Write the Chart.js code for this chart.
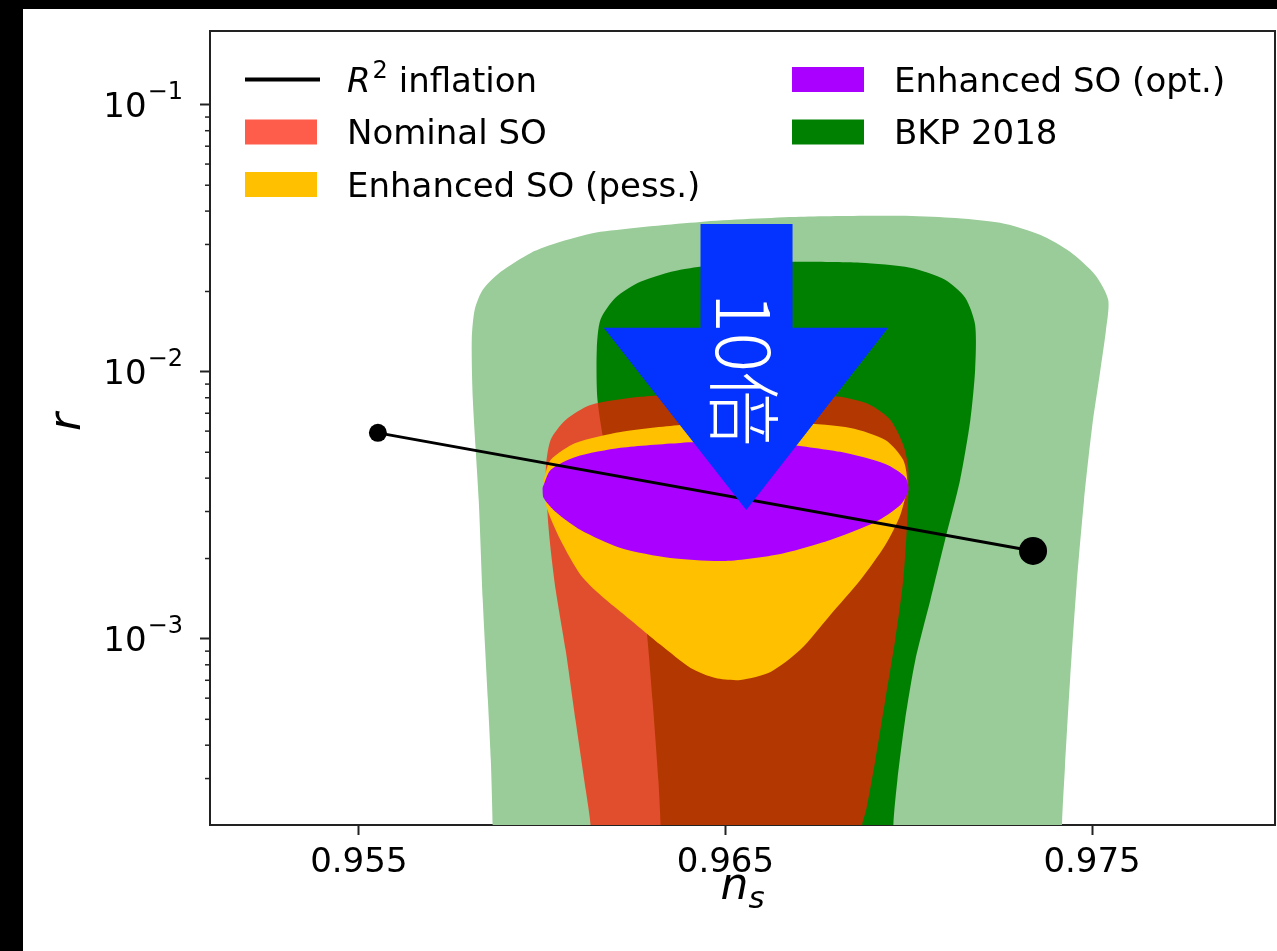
<!DOCTYPE html>
<html>
<head>
<meta charset="utf-8">
<script src="https://cdn.jsdelivr.net/npm/chart.js@4.4.1/dist/chart.umd.min.js"></script>
<style>
  html, body { margin: 0; padding: 0; background: #000; }
  canvas { display: block; }
</style>
</head>
<body>
<canvas id="c" width="1277" height="951"></canvas>
<script>
// ---------------- data ----------------
const nsTicks = [0.955, 0.965, 0.975];
const nsTickLabels = ['0.955', '0.965', '0.975'];
const rMajorTicks = [1e-3, 1e-2, 1e-1];
const rTickBase = ['10', '10', '10'];
const rTickExp = ['\u22123', '\u22122', '\u22121'];
const rMinorTicks = [2e-4,3e-4,4e-4,5e-4,6e-4,7e-4,8e-4,9e-4,
                     2e-3,3e-3,4e-3,5e-3,6e-3,7e-3,8e-3,9e-3,
                     2e-2,3e-2,4e-2,5e-2,6e-2,7e-2,8e-2,9e-2];
const nsRange = [0.95094, 0.97999];
const rRange = [2.01e-4, 0.189];

// R^2 inflation line (ns, r)
const r2Inflation = [[0.95552, 0.00591], [0.97339, 0.002136]];

// BKP 2018 outer (95%) contour
const bkp95 = [[0.95865,0.00012],[0.95865,0.000201],[0.95860,0.000352],[0.95852,0.000591],
  [0.95838,0.00140],[0.95827,0.003316],[0.95811,0.007854],[0.95808,0.01318],[0.95816,0.01707],
  [0.95838,0.02028],[0.95887,0.02369],[0.95969,0.0279],[0.96050,0.03068],[0.96159,0.03345],
  [0.96432,0.03645],[0.96704,0.03807],[0.96977,0.03839],[0.97113,0.03774],[0.97249,0.03614],
  [0.97358,0.0326],[0.97440,0.02815],[0.97508,0.02309],[0.97544,0.01861],[0.97538,0.01437],
  [0.97522,0.0100],[0.97500,0.00620],[0.97478,0.00330],[0.97458,0.0016],[0.97440,0.000700],
  [0.97426,0.000330],[0.97418,0.000201],[0.97418,0.00012]];

// BKP 2018 inner (68%) contour
const bkp68 = [[0.96326,0.00012],[0.96323,0.000201],[0.96317,0.000296],[0.96301,0.000591],
  [0.96282,0.001178],[0.96255,0.001976],[0.96214,0.003316],[0.96173,0.005104],[0.96151,0.007854],
  [0.96149,0.01209],[0.96159,0.01566],[0.96200,0.01893],[0.96268,0.02173],[0.96377,0.0241],
  [0.96541,0.0256],[0.96704,0.02582],[0.96868,0.0256],[0.97004,0.02452],[0.97099,0.02211],
  [0.97154,0.01893],[0.97181,0.0150],[0.97181,0.01017],[0.97168,0.006609],[0.97140,0.00394],
  [0.97099,0.002348],[0.97059,0.0014],[0.97018,0.000834],[0.96990,0.000497],[0.96969,0.000296],
  [0.96958,0.000201],[0.96958,0.00012]];

// Nominal SO
const nominalSO = [[0.96138,0.00012],[0.96132,0.000201],[0.96119,0.000272],[0.96091,0.000497],
  [0.96064,0.00091],[0.96037,0.001526],[0.96018,0.002559],[0.96010,0.004295],[0.96023,0.005563],
  [0.96064,0.006609],[0.96132,0.007522],[0.96268,0.008061],[0.96432,0.008341],[0.96650,0.008341],
  [0.96813,0.008061],[0.96895,0.007522],[0.96950,0.006609],[0.96985,0.005329],[0.96999,0.004295],
  [0.96996,0.00279],[0.96985,0.001663],[0.96963,0.000991],[0.96936,0.000591],[0.96909,0.000352],
  [0.96884,0.000229],[0.96873,0.000201],[0.96868,0.00012]];

// Enhanced SO (pess.)
const enhancedPess = [[0.96004,0.00394],[0.96023,0.004681],[0.96091,0.005421],[0.96214,0.00596],
  [0.96377,0.00633],[0.96541,0.0065],[0.96704,0.00644],[0.96841,0.006169],[0.96936,0.005563],
  [0.96985,0.004681],[0.96996,0.00377],[0.96977,0.002913],[0.96936,0.002249],[0.96868,0.001663],
  [0.96786,0.00123],[0.96704,0.00091],[0.96623,0.000752],[0.96541,0.000702],[0.96473,0.000714],
  [0.96405,0.000779],[0.96323,0.00095],[0.96241,0.001178],[0.96159,0.001461],[0.96105,0.001737],
  [0.96050,0.002348],[0.96010,0.003176]];

// Enhanced SO (opt.)
const enhancedOpt = [[0.96001,0.003677],[0.96023,0.004295],[0.96091,0.004803],[0.96214,0.005193],
  [0.96377,0.005421],[0.96500,0.005468],[0.96650,0.005374],[0.96813,0.005017],[0.96936,0.004522],
  [0.96990,0.004043],[0.96999,0.003614],[0.96977,0.003176],[0.96909,0.002742],[0.96786,0.002348],
  [0.96650,0.002081],[0.96500,0.001959],[0.96350,0.00201],[0.96214,0.002191],[0.96105,0.002559],
  [0.96037,0.002989],[0.96004,0.003373]];

// "10倍" arrow annotation, in (ns, r)
const arrowPolygon = [[0.96432,0.03582],[0.96683,0.03582],[0.96683,0.01462],[0.96944,0.01462],
  [0.96557,0.003041],[0.96168,0.01462],[0.96432,0.01462]];
const arrowText = '10倍';
const arrowTextPos = [0.96552, 0.0102];

// ---------------- chart ----------------
const xy = (arr, close) => {
  const pts = arr.map(([x, y]) => ({x, y}));
  if (close) pts.push({x: arr[0][0], y: arr[0][1]});
  return pts;
};
const shape = (label, arr, color) => ({
  label, data: xy(arr, true), showLine: true, fill: 'shape',
  backgroundColor: color, borderColor: 'transparent', borderWidth: 1,
  pointRadius: 0, tension: 0.25, capBezierPoints: false
});

const FONT = 'DejaVu Sans';

const customDraw = {
  id: 'customDraw',
  beforeDraw(chart) {
    const ctx = chart.ctx;
    ctx.save();
    ctx.fillStyle = '#000';
    ctx.fillRect(0, 0, chart.width, chart.height);
    ctx.fillStyle = '#fff';
    ctx.fillRect(23, 9, chart.width - 23, chart.height - 9);
    ctx.restore();
  },
  afterDatasetsDraw(chart) {
    const ctx = chart.ctx, xs = chart.scales.x, ys = chart.scales.y;
    ctx.save();
    ctx.beginPath();
    arrowPolygon.forEach(([x, y], i) => {
      const px = xs.getPixelForValue(x), py = ys.getPixelForValue(y);
      if (i === 0) ctx.moveTo(px, py); else ctx.lineTo(px, py);
    });
    ctx.closePath();
    ctx.fillStyle = '#0433ff';
    ctx.fill();
    ctx.translate(xs.getPixelForValue(arrowTextPos[0]), ys.getPixelForValue(arrowTextPos[1]));
    ctx.rotate(Math.PI / 2);
    ctx.fillStyle = '#fff';
    ctx.font = '300 74px "Noto Sans CJK JP"';
    ctx.textAlign = 'center';
    ctx.textBaseline = 'middle';
    ctx.fillText(arrowText, 0, 0);
    ctx.restore();
  },
  afterDraw(chart) {
    const ctx = chart.ctx, a = chart.chartArea, ys = chart.scales.y;
    ctx.save();
    // top / right spines
    ctx.strokeStyle = '#222';
    ctx.lineWidth = 2;
    ctx.beginPath();
    ctx.moveTo(a.left, a.top); ctx.lineTo(a.right, a.top); ctx.lineTo(a.right, a.bottom);
    ctx.stroke();
    // minor ticks on r axis
    ctx.lineWidth = 1.5;
    rMinorTicks.forEach(v => {
      const py = ys.getPixelForValue(v);
      if (py < a.top || py > a.bottom) return;
      ctx.beginPath(); ctx.moveTo(a.left, py); ctx.lineTo(a.left - 5, py); ctx.stroke();
    });
    // r tick labels: 10 with superscript exponent
    ctx.fillStyle = '#000';
    ctx.textBaseline = 'alphabetic';
    ctx.textAlign = 'left';
    rMajorTicks.forEach((v, i) => {
      const py = ys.getPixelForValue(v);
      ctx.font = '24px "' + FONT + '"';
      const ew = ctx.measureText(rTickExp[i]).width;
      ctx.font = '34px "' + FONT + '"';
      const bw = ctx.measureText(rTickBase[i]).width;
      const right = a.left - 27;
      ctx.fillText(rTickBase[i], right - ew - bw - 1, py + 12);
      ctx.font = '24px "' + FONT + '"';
      ctx.fillText(rTickExp[i], right - ew, py - 6);
    });
    // axis titles
    ctx.font = 'italic 44px "' + FONT + '"';
    const nx = (a.left + a.right) / 2 - 22;
    ctx.fillText('n', nx, 899);
    const nw = ctx.measureText('n').width;
    ctx.font = 'italic 31px "' + FONT + '"';
    ctx.fillText('s', nx + nw, 908);
    ctx.save();
    ctx.translate(80, (a.top + a.bottom) / 2 - 6);
    ctx.rotate(-Math.PI / 2);
    ctx.font = 'italic 44px "' + FONT + '"';
    ctx.textAlign = 'center';
    ctx.fillText('r', 0, 0);
    ctx.restore();
    // legend (two columns, matplotlib style)
    const ds = chart.data.datasets.filter(d => d.legend);
    ds.sort((p, q) => p.legend - q.legend);
    const colX = [245, 792], rowY = [79.5, 132, 184.5];
    ds.forEach((d, i) => {
      const col = Math.floor(i / 3), row = i % 3;
      const x = colX[col], y = rowY[row];
      if (d.fill === 'shape') {
        ctx.fillStyle = '#fff';
        ctx.fillRect(x, y - 12.5, 72, 25);
        ctx.fillStyle = d.backgroundColor;
        ctx.fillRect(x, y - 12.5, 72, 25);
      } else {
        ctx.strokeStyle = d.borderColor; ctx.lineWidth = 4;
        ctx.beginPath(); ctx.moveTo(x, y); ctx.lineTo(x + 75, y); ctx.stroke();
      }
      ctx.fillStyle = '#000';
      ctx.textAlign = 'left';
      ctx.textBaseline = 'alphabetic';
      const tx = x + 102, base = y + 12;
      if (d.label.startsWith('R\u00B2')) {
        ctx.font = 'italic 34px "' + FONT + '"';
        ctx.fillText('R', tx, base);
        let w = ctx.measureText('R').width;
        ctx.font = '24px "' + FONT + '"';
        ctx.fillText('2', tx + w + 2, base - 14);
        w += 2 + ctx.measureText('2').width;
        ctx.font = '34px "' + FONT + '"';
        ctx.fillText(d.label.slice(2), tx + w, base);
      } else {
        ctx.font = '34px "' + FONT + '"';
        ctx.fillText(d.label, tx, base);
      }
    });
    ctx.restore();
  }
};

const tickFont = {family: FONT, size: 34};
const noPad = s => { s.paddingTop = 0; s.paddingBottom = 0; s.paddingLeft = 0; s.paddingRight = 0; };

new Chart(document.getElementById('c'), {
  type: 'scatter',
  data: {
    datasets: [
      {label: 'R\u00B2 inflation', legend: 1, data: xy(r2Inflation, false), showLine: true,
       borderColor: '#000', borderWidth: 3, pointRadius: [9, 14], pointBackgroundColor: '#000',
       pointBorderWidth: 0, fill: false},
      Object.assign(shape('Enhanced SO (opt.)', enhancedOpt, '#aa00ff'), {legend: 4}),
      Object.assign(shape('Enhanced SO (pess.)', enhancedPess, '#ffc000'), {legend: 3}),
      Object.assign(shape('Nominal SO', nominalSO, 'rgba(255,24,0,0.7)'), {legend: 2}),
      Object.assign(shape('BKP 2018', bkp68, '#008000'), {legend: 5}),
      shape('BKP 2018 (95%)', bkp95, '#99cc99')
    ]
  },
  options: {
    responsive: false,
    animation: false,
    events: [],
    layout: {autoPadding: false, padding: {top: 31, right: 2, left: 0, bottom: 0}},
    plugins: {legend: {display: false}, tooltip: {enabled: false}},
    scales: {
      x: {
        type: 'linear', min: nsRange[0], max: nsRange[1],
        afterBuildTicks: s => { s.ticks = nsTicks.map(v => ({value: v})); },
        afterFit: s => { s.height = 126; noPad(s); },
        ticks: {callback: (v, i) => nsTickLabels[i], font: tickFont, color: '#000',
                padding: 8, maxRotation: 0, autoSkip: false},
        grid: {drawOnChartArea: false, tickLength: 10, tickColor: '#222', tickWidth: 2},
        border: {display: true, color: '#222', width: 2}
      },
      y: {
        type: 'logarithmic', min: rRange[0], max: rRange[1],
        afterBuildTicks: s => { s.ticks = rMajorTicks.map(v => ({value: v, major: true})); },
        afterFit: s => { s.width = 210; noPad(s); },
        ticks: {display: false},
        grid: {drawOnChartArea: false, tickLength: 10, tickColor: '#222', tickWidth: 2},
        border: {display: true, color: '#222', width: 2}
      }
    }
  },
  plugins: [customDraw]
});
</script>
</body>
</html>
